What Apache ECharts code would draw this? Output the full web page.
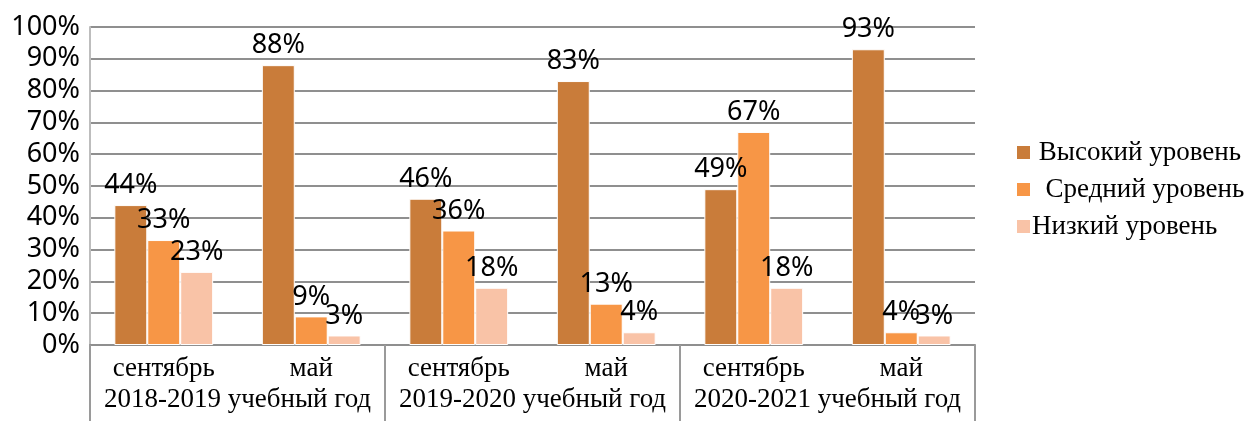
<!DOCTYPE html>
<html>
<head>
<meta charset="utf-8">
<script src="https://cdn.jsdelivr.net/npm/echarts@6/dist/echarts.min.js"></script>
<style>
html,body{margin:0;padding:0;background:#fff;}
#chart{width:1245px;height:421px;}
</style>
</head>
<body>
<div id="chart"></div>
<script>
const months = ['сентябрь', 'май', 'сентябрь', 'май', 'сентябрь', 'май'];
const years = ['2018-2019 учебный год', '2019-2020 учебный год', '2020-2021 учебный год'];
const seriesNames = [' Высокий уровень', '  Средний уровень', 'Низкий уровень'];
const high = [44, 88, 46, 83, 49, 93];
const mid = [33, 9, 36, 13, 67, 4];
const low = [23, 3, 18, 4, 18, 3];
const colors = ['#C97C3A', '#F79646', '#F9C3A7'];

const chart = echarts.init(document.getElementById('chart'), null, {renderer: 'canvas'});
const serif = 'Liberation Serif';
const sans = 'Noto Sans';

function mkSeries(name, data, color) {
  return {
    name: name,
    type: 'bar',
    data: data,
    barGap: '0%',
    barCategoryGap: '33%',
    itemStyle: {color: color, borderColor: '#fff', borderWidth: 1},
    label: {
      show: true,
      position: 'top',
      distance: 6,
      formatter: '{c}%',
      color: '#000',
      fontFamily: sans,
      fontSize: 27
    },
    emphasis: {disabled: true}
  };
}

chart.setOption({
  animation: false,
  color: colors,
  grid: {left: 90, right: 270, top: 27, bottom: 76, containLabel: false},
  legend: {
    orient: 'vertical',
    left: 1010,
    top: 134,
    itemWidth: 15,
    itemHeight: 15,
    itemGap: 10,
    icon: 'rect',
    textStyle: {fontFamily: serif, fontSize: 27, color: '#000', lineHeight: 27, padding: [0, 0, 0, -4], overflow: 'none'},
    data: seriesNames
  },
  xAxis: [
    {
      type: 'category',
      data: months,
      position: 'bottom',
      axisLine: {show: true, lineStyle: {color: '#8f8f8f', width: 2}},
      axisTick: {show: false},
      axisLabel: {fontFamily: serif, fontSize: 27, color: '#000', margin: 10, interval: 0}
    },
    {
      type: 'category',
      data: years,
      position: 'bottom',
      axisLine: {show: false},
      axisTick: {show: true, length: 76, lineStyle: {color: '#9a9a9a', width: 2}},
      axisLabel: {fontFamily: serif, fontSize: 27, color: '#000', margin: 41, interval: 0},
      splitLine: {show: false}
    }
  ],
  yAxis: {
    type: 'value',
    min: 0,
    max: 100,
    interval: 10,
    axisLine: {show: true, lineStyle: {color: '#bdbdbd', width: 2}},
    axisTick: {show: false},
    axisLabel: {formatter: '{value}%', fontFamily: sans, fontSize: 27, color: '#000', margin: 10},
    splitLine: {show: true, lineStyle: {color: '#8f8f8f', width: 2}}
  },
  series: [
    mkSeries(seriesNames[0], high, colors[0]),
    mkSeries(seriesNames[1], mid, colors[1]),
    mkSeries(seriesNames[2], low, colors[2])
  ]
});
</script>
</body>
</html>
